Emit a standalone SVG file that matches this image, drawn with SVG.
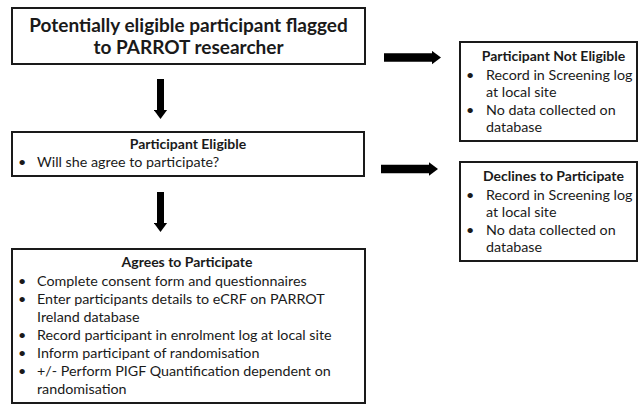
<svg xmlns="http://www.w3.org/2000/svg" width="638" height="404" viewBox="0 0 638 404">
<defs>
<marker id="ah" markerUnits="userSpaceOnUse" markerWidth="10" markerHeight="14" viewBox="0 0 10 14" refX="0.5" refY="7" orient="auto">
<path d="M0,0 L9.5,7 L0,14 Z" fill="#000"/>
</marker>
<style>
.box{fill:#fff;stroke:#1a1a1a;stroke-width:2}
.t{font-family:Lato,"Open Sans",sans-serif;fill:#1a1a1a}
.title{font-size:19px;font-weight:bold;text-anchor:middle}
.h{font-size:14px;font-weight:bold;text-anchor:middle}
.b{font-size:14.3px}
.c{fill:none;stroke:#000;marker-end:url(#ah)}
</style>
</defs>
<rect width="638" height="404" fill="#fff"/>
<g id="connectors">
<line class="c" x1="160.5" y1="79" x2="160.5" y2="110" stroke-width="7"/>
<line class="c" x1="160.5" y1="192" x2="160.5" y2="223" stroke-width="7"/>
<line class="c" x1="384" y1="57.5" x2="432" y2="57.5" stroke-width="8.5"/>
<line class="c" x1="381" y1="169" x2="429" y2="169" stroke-width="8.5"/>
</g>
<g id="flagged">
<rect class="box" x="12" y="8" width="353" height="56"/>
<text class="t title" x="188.5" y="32">Potentially eligible participant flagged</text>
<text class="t title" x="188.5" y="53.5">to PARROT researcher</text>
</g>
<g id="eligible">
<rect class="box" x="12" y="132" width="352" height="44"/>
<text class="t h" x="188" y="149">Participant Eligible</text>
<text class="t b" x="18" y="167">•</text>
<text class="t b" x="37" y="167">Will she agree to participate?</text>
</g>
<g id="agrees">
<rect class="box" x="12" y="249" width="353" height="154"/>
<text class="t h" x="187" y="267">Agrees to Participate</text>
<text class="t b" x="18" y="285.5">•</text>
<text class="t b" x="37" y="285.5">Complete consent form and questionnaires</text>
<text class="t b" x="18" y="303.5">•</text>
<text class="t b" x="37" y="303.5">Enter participants details to eCRF on PARROT</text>
<text class="t b" x="37" y="321.5">Ireland database</text>
<text class="t b" x="18" y="339.5">•</text>
<text class="t b" x="37" y="339.5">Record participant in enrolment log at local site</text>
<text class="t b" x="18" y="357.5">•</text>
<text class="t b" x="37" y="357.5">Inform participant of randomisation</text>
<text class="t b" x="18" y="375.5">•</text>
<text class="t b" x="37" y="375.5">+/- Perform PIGF Quantification dependent on</text>
<text class="t b" x="37" y="393.5">randomisation</text>
</g>
<g id="not-eligible">
<rect class="box" x="460" y="42" width="177" height="99"/>
<text class="t h" x="553.5" y="61">Participant Not Eligible</text>
<text class="t b" x="466" y="79.5">•</text>
<text class="t b" x="486" y="79.5">Record in Screening log</text>
<text class="t b" x="486" y="97">at local site</text>
<text class="t b" x="466" y="114.5">•</text>
<text class="t b" x="486" y="114.5">No data collected on</text>
<text class="t b" x="486" y="132">database</text>
</g>
<g id="declines">
<rect class="box" x="460" y="162" width="177" height="99"/>
<text class="t h" x="553.5" y="181">Declines to Participate</text>
<text class="t b" x="466" y="199.5">•</text>
<text class="t b" x="486" y="199.5">Record in Screening log</text>
<text class="t b" x="486" y="217">at local site</text>
<text class="t b" x="466" y="234.5">•</text>
<text class="t b" x="486" y="234.5">No data collected on</text>
<text class="t b" x="486" y="252">database</text>
</g>
</svg>
